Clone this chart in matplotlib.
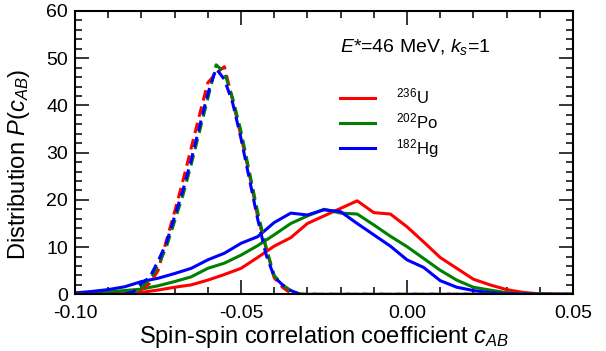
import numpy as np
import matplotlib
matplotlib.use('Agg')
import matplotlib.pyplot as plt
import matplotlib.ticker as mticker

plt.rcParams['font.family'] = ['Liberation Sans', 'DejaVu Sans']
plt.rcParams['mathtext.fontset'] = 'custom'
plt.rcParams['mathtext.rm'] = 'Liberation Sans'
plt.rcParams['mathtext.it'] = 'Liberation Sans:italic'
plt.rcParams['axes.unicode_minus'] = False

# solid curves, step 0.005 from -0.100 to 0.050
x_solid = [-0.100, -0.095, -0.090, -0.085, -0.080, -0.075, -0.070, -0.065,
           -0.060, -0.055, -0.050, -0.045, -0.040, -0.035, -0.030, -0.025,
           -0.020, -0.015, -0.010, -0.005, 0.000, 0.005, 0.010, 0.015,
           0.020, 0.025, 0.030, 0.035, 0.040, 0.045, 0.050]
u_solid = [0.0, 0.0, 0.1, 0.2, 0.4, 0.9, 1.5, 2.0, 3.0, 4.2, 5.5, 7.8, 10.2,
           12.0, 15.0, 16.6, 18.2, 19.8, 17.3, 17.0, 14.3, 11.1, 7.8, 5.5,
           3.2, 2.0, 1.0, 0.4, 0.1, 0.05, 0.0]
po_solid = [0.2, 0.3, 0.5, 0.8, 1.1, 1.8, 2.7, 3.7, 5.5, 6.6, 8.3, 10.3, 12.6,
            15.0, 16.6, 18.0, 17.2, 17.0, 14.7, 12.3, 10.1, 7.6, 5.1, 3.0,
            1.5, 0.9, 0.35, 0.1, 0.05, 0.0, 0.0]
hg_solid = [0.3, 0.6, 1.0, 1.6, 2.7, 3.4, 4.4, 5.5, 7.3, 8.7, 10.8, 12.2, 15.2,
            17.2, 16.8, 17.9, 17.5, 15.0, 12.6, 10.2, 7.3, 5.7, 2.9, 1.5,
            0.8, 0.35, 0.15, 0.05, 0.0, 0.0, 0.0]

# dashed curves, step 0.0025 from -0.100 to 0.050
x_dash = np.round(np.arange(-0.100, 0.05001, 0.0025), 4)
u_dash = [0, 0, 0, 0, 0, 0, 0, 0.2, 1.0, 2.3, 5.0, 11.3, 17.5, 24.0, 31.0,
          38.0, 44.8, 46.8, 48.2, 41.0, 33.5, 25.5, 16.5, 10.0, 3.5, 1.5,
          0.2, 0, 0, 0, 0, 0, 0, 0, 0, 0, 0, 0, 0, 0, 0, 0, 0, 0, 0, 0,
          0, 0, 0, 0, 0, 0, 0, 0, 0, 0, 0, 0, 0, 0, 0]
po_dash = [0, 0, 0, 0, 0, 0, 0, 0.2, 1.5, 3.0, 6.0, 10.0, 15.5, 21.0, 27.5,
           34.5, 41.5, 48.6, 47.0, 41.5, 34.5, 26.0, 17.5, 10.0, 4.0, 2.0,
           0.8, 0.1, 0, 0, 0, 0, 0, 0, 0, 0, 0, 0, 0, 0, 0, 0, 0, 0, 0, 0,
           0, 0, 0, 0, 0, 0, 0, 0, 0, 0, 0, 0, 0, 0, 0]
hg_dash = [0, 0, 0, 0, 0, 0, 0.1, 0.5, 2.3, 3.6, 7.0, 10.8, 16.5, 22.0, 28.5,
           35.5, 42.5, 47.8, 45.5, 40.5, 33.0, 24.5, 16.0, 8.5, 3.7, 2.0,
           0.8, 0.1, 0, 0, 0, 0, 0, 0, 0, 0, 0, 0, 0, 0, 0, 0, 0, 0, 0, 0,
           0, 0, 0, 0, 0, 0, 0, 0, 0, 0, 0, 0, 0, 0, 0]
x_dash = x_dash[:len(u_dash)]

labels = [r'$^{236}$U', r'$^{202}$Po', r'$^{182}$Hg']
colors = ['#ff0000', '#008000', '#0000ff']

fig = plt.figure(figsize=(6.06, 3.51), dpi=100)
ax = fig.add_axes([0.1238, 0.1615, 0.8217, 0.8072])

for ys, c, lab in zip([u_solid, po_solid, hg_solid], colors, labels):
    ax.plot(x_solid, ys, color=c, lw=2.2, label=lab)
for ys, c in zip([u_dash, po_dash, hg_dash], colors):
    ax.plot(x_dash, ys, color=c, lw=2.2, ls=(0, (3.5, 2.0)))

ax.set_xlim(-0.10, 0.05)
ax.set_ylim(0, 60)
ax.xaxis.set_major_locator(mticker.MultipleLocator(0.05))
ax.xaxis.set_minor_locator(mticker.MultipleLocator(0.01))
ax.xaxis.set_major_formatter(mticker.FormatStrFormatter('%.2f'))
ax.yaxis.set_major_locator(mticker.MultipleLocator(10))
ax.yaxis.set_minor_locator(mticker.MultipleLocator(2))
ax.tick_params(which='both', direction='in', top=True, right=True,
               labelsize=14, width=1.1)
ax.tick_params(axis='x', pad=8)
ax.tick_params(axis='y', pad=5)
ax.tick_params(which='major', length=10)
ax.tick_params(which='minor', length=5)
for s in ax.spines.values():
    s.set_linewidth(1.5)

ax.set_xlabel(r'Spin-spin correlation coefficient $c_{AB}$', fontsize=17, labelpad=1)
ax.set_ylabel(r'Distribution $P(c_{AB})$', fontsize=17)
ax.yaxis.set_label_coords(-0.086, 0.46)

ax.text(0.532, 0.873, r'$E$*=46 MeV, $k_s$=1', transform=ax.transAxes,
        fontsize=14, va='center')
ax.legend(loc='upper left', bbox_to_anchor=(0.502, 0.785), frameon=False,
          fontsize=12, handlelength=2.1, handletextpad=1.25, labelspacing=0.3)

fig.savefig('out.png', dpi=100)
